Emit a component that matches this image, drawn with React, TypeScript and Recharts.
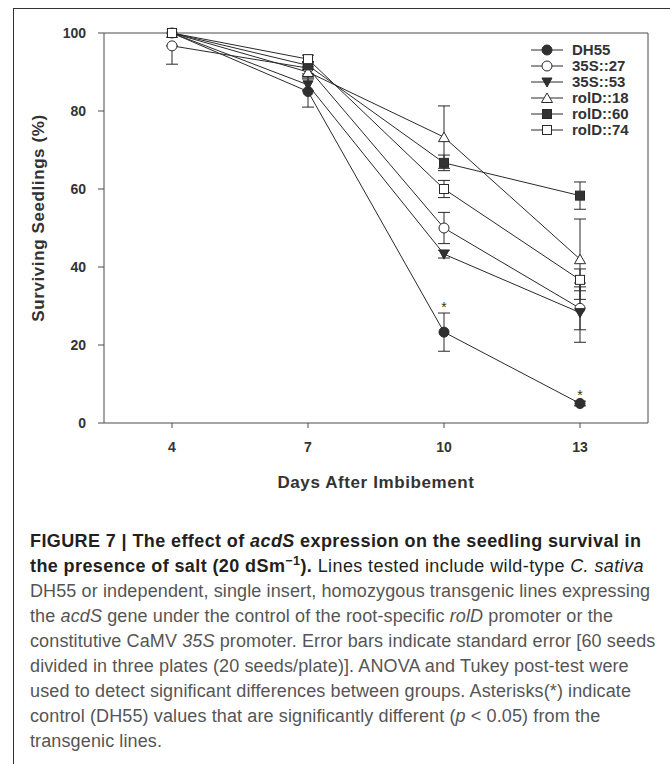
import React from "react";
import {
  LineChart,
  Line,
  XAxis,
  YAxis,
  ErrorBar,
  ReferenceLine,
  ReferenceDot,
  Legend,
} from "recharts";

// Days after imbibement (x axis)
const days = [4, 7, 10, 13];
const yTicks = [0, 20, 40, 60, 80, 100];

// Surviving seedlings (%) per line, with standard errors
const dh55 = [100, 85, 23.3, 5];
const dh55Err = [0, 4, 4.9, 0.6];
const s35_27 = [96.7, 91, 50, 29.4];
const s35_27Err: (number | number[])[] = [[4.7, 0], 1.5, 4, 5.5];
const s35_53 = [100, 86.7, 43.3, 28.3];
const s35_53Err = [0, 1.5, 1, 7.6];
const rolD18 = [100, 90, 73.3, 42];
const rolD18Err = [0, 1.5, 8, 10.3];
const rolD60 = [100, 91.7, 66.7, 58.3];
const rolD60Err = [0, 1, 2, 3.5];
const rolD74 = [100, 93.3, 60, 36.7];
const rolD74Err = [0, 1, 2.2, 2.8];

// days where DH55 differs significantly (asterisk)
const dh55Sig = [false, false, true, true];

const series = [
  { key: "DH55", values: dh55, errors: dh55Err, shape: "circleFilled" },
  { key: "35S::27", values: s35_27, errors: s35_27Err, shape: "circleOpen" },
  { key: "35S::53", values: s35_53, errors: s35_53Err, shape: "triDown" },
  { key: "rolD::18", values: rolD18, errors: rolD18Err, shape: "triUp" },
  { key: "rolD::60", values: rolD60, errors: rolD60Err, shape: "squareFilled" },
  { key: "rolD::74", values: rolD74, errors: rolD74Err, shape: "squareOpen" },
];

const rows = days.map((day, i) => {
  const row: any = { day };
  series.forEach((s) => {
    row[s.key] = s.values[i];
    row[s.key + "_err"] = s.errors[i];
  });
  return row;
});

const sigMarks = days
  .map((day, i) => ({ day, y: dh55[i] + dh55Err[i], sig: dh55Sig[i] }))
  .filter((d) => d.sig);

const FONT = "'Liberation Sans', Arial, Helvetica, sans-serif";
const INK = "#2a2a2a";
const AXIS = "#4a4a4a";

const Marker = ({ shape, cx, cy }: { shape: string; cx: number; cy: number }) => {
  if (cx == null || cy == null) return null;
  switch (shape) {
    case "circleFilled":
      return <circle cx={cx} cy={cy} r={5} fill="#303030" stroke={INK} strokeWidth={1} />;
    case "circleOpen":
      return <circle cx={cx} cy={cy} r={5} fill="#fff" stroke={INK} strokeWidth={1} />;
    case "triDown":
      return (
        <polygon
          points={`${cx - 5},${cy - 4} ${cx + 5},${cy - 4} ${cx},${cy + 5}`}
          fill="#303030"
          stroke={INK}
        />
      );
    case "triUp":
      return (
        <polygon
          points={`${cx - 5.5},${cy + 4.5} ${cx + 5.5},${cy + 4.5} ${cx},${cy - 5}`}
          fill="#fff"
          stroke={INK}
        />
      );
    case "squareFilled":
      return <rect x={cx - 4.5} y={cy - 4.5} width={9} height={9} fill="#333" stroke={INK} />;
    default:
      return <rect x={cx - 4.5} y={cy - 4.5} width={9} height={9} fill="#fff" stroke={INK} />;
  }
};

const renderLegend = () => (
  <div style={{ fontFamily: FONT }}>
    {series.map((s) => (
      <div key={s.key} style={{ display: "flex", alignItems: "center", height: 16 }}>
        <svg width={43} height={16} style={{ flex: "none" }}>
          <line x1={2} y1={8} x2={34} y2={8} stroke={INK} strokeWidth={1} />
          <Marker shape={s.shape} cx={18} cy={8} />
        </svg>
        <span style={{ fontSize: 15, fontWeight: 700, color: "#333", lineHeight: "16px" }}>
          {s.key}
        </span>
      </div>
    ))}
  </div>
);

const tickStyle = { fontSize: 14, fontWeight: 700, fill: "#333", fontFamily: FONT };
const titleStyle = {
  fontSize: 17,
  fontWeight: 700,
  fill: "#333",
  fontFamily: FONT,
  letterSpacing: 0.6,
};

const captionLines: React.ReactNode[] = [
  <b>
    FIGURE 7 | The effect of <i>acdS</i> expression on the seedling survival in
  </b>,
  <>
    <b>
      the presence of salt (20 dSm<sup style={{ fontSize: "0.7em", lineHeight: 0 }}>−1</sup>).
    </b>{" "}
    Lines tested include wild-type <i>C. sativa</i>
  </>,
  <>DH55 or independent, single insert, homozygous transgenic lines expressing</>,
  <>
    the <i>acdS</i> gene under the control of the root-specific <i>rolD</i> promoter or the
  </>,
  <>
    constitutive CaMV <i>35S</i> promoter. Error bars indicate standard error [60 seeds
  </>,
  <>divided in three plates (20 seeds/plate)]. ANOVA and Tukey post-test were</>,
  <>used to detect significant differences between groups. Asterisks(*) indicate</>,
  <>
    control (DH55) values that are significantly different (<i>p</i> &lt; 0.05) from the
  </>,
  <>transgenic lines.</>,
];

export default function App() {
  return (
    <div
      style={{
        position: "absolute",
        left: 0,
        top: 0,
        width: 670,
        height: 764,
        background: "#fff",
        overflow: "hidden",
      }}
    >
      {/* page frame */}
      <div style={{ position: "absolute", left: 13, top: 8, right: 0, borderTop: "1px solid #333" }} />
      <div style={{ position: "absolute", left: 13, top: 8, bottom: 0, borderLeft: "1px solid #333" }} />

      <div style={{ position: "absolute", left: 0, top: 0 }}>
        <LineChart
          width={670}
          height={520}
          data={rows}
          margin={{ top: 33, right: 22, bottom: 67, left: 44 }}
        >
          <XAxis
            dataKey="day"
            type="number"
            domain={[2.5, 14.5]}
            ticks={days}
            height={30}
            tickSize={5}
            tickMargin={14}
            axisLine={{ stroke: AXIS }}
            tickLine={{ stroke: AXIS }}
            tick={tickStyle}
            label={{
              value: "Days After Imbibement",
              position: "bottom",
              offset: 23,
              style: titleStyle,
            }}
          />
          <YAxis
            type="number"
            domain={[0, 100]}
            ticks={yTicks}
            width={60}
            tickSize={6}
            tickMargin={12}
            axisLine={{ stroke: AXIS }}
            tickLine={{ stroke: AXIS }}
            tick={tickStyle}
            label={{
              content: () => (
                <text
                  x={38}
                  y={218}
                  transform="rotate(-90 38 218)"
                  textAnchor="middle"
                  dominantBaseline="central"
                  style={titleStyle}
                >
                  Surviving Seedlings (%)
                </text>
              ),
            }}
          />
          <ReferenceLine y={100} stroke={AXIS} />
          <ReferenceLine x={14.5} stroke={AXIS} />
          {series.map((s) => (
            <Line
              key={s.key}
              dataKey={s.key}
              name={s.key}
              type="linear"
              stroke={INK}
              strokeWidth={1}
              isAnimationActive={false}
              dot={(p: any) => <Marker key={`${s.key}-${p.index}`} shape={s.shape} cx={p.cx} cy={p.cy} />}
              activeDot={false}
            >
              <ErrorBar dataKey={s.key + "_err"} width={6} stroke={INK} strokeWidth={1} direction="y" />
            </Line>
          ))}
          {sigMarks.map((m) => (
            <ReferenceDot
              key={m.day}
              x={m.day}
              y={m.y}
              r={0}
              fill="none"
              stroke="none"
              label={{
                value: "*",
                position: "top",
                offset: 1,
                style: { fontSize: 14, fill: "#333", fontFamily: FONT },
              }}
            />
          ))}
          <Legend
            layout="vertical"
            align="center"
            verticalAlign="middle"
            content={renderLegend}
            wrapperStyle={{ position: "absolute", top: 42, left: 529, width: 125 }}
          />
        </LineChart>
      </div>

      <div
        style={{
          position: "absolute",
          left: 30,
          top: 529,
          fontFamily: "'Liberation Sans', Arial, sans-serif",
          fontSize: 18,
          letterSpacing: 0.12,
          lineHeight: "25px",
          color: "#555",
          whiteSpace: "nowrap",
        }}
      >
        {captionLines.map((line, i) => (
          <div key={i} style={{ height: 25 }}>
            <span style={i < 2 ? { color: "#231f20", letterSpacing: 0.4 } : undefined}>{line}</span>
          </div>
        ))}
      </div>
    </div>
  );
}
